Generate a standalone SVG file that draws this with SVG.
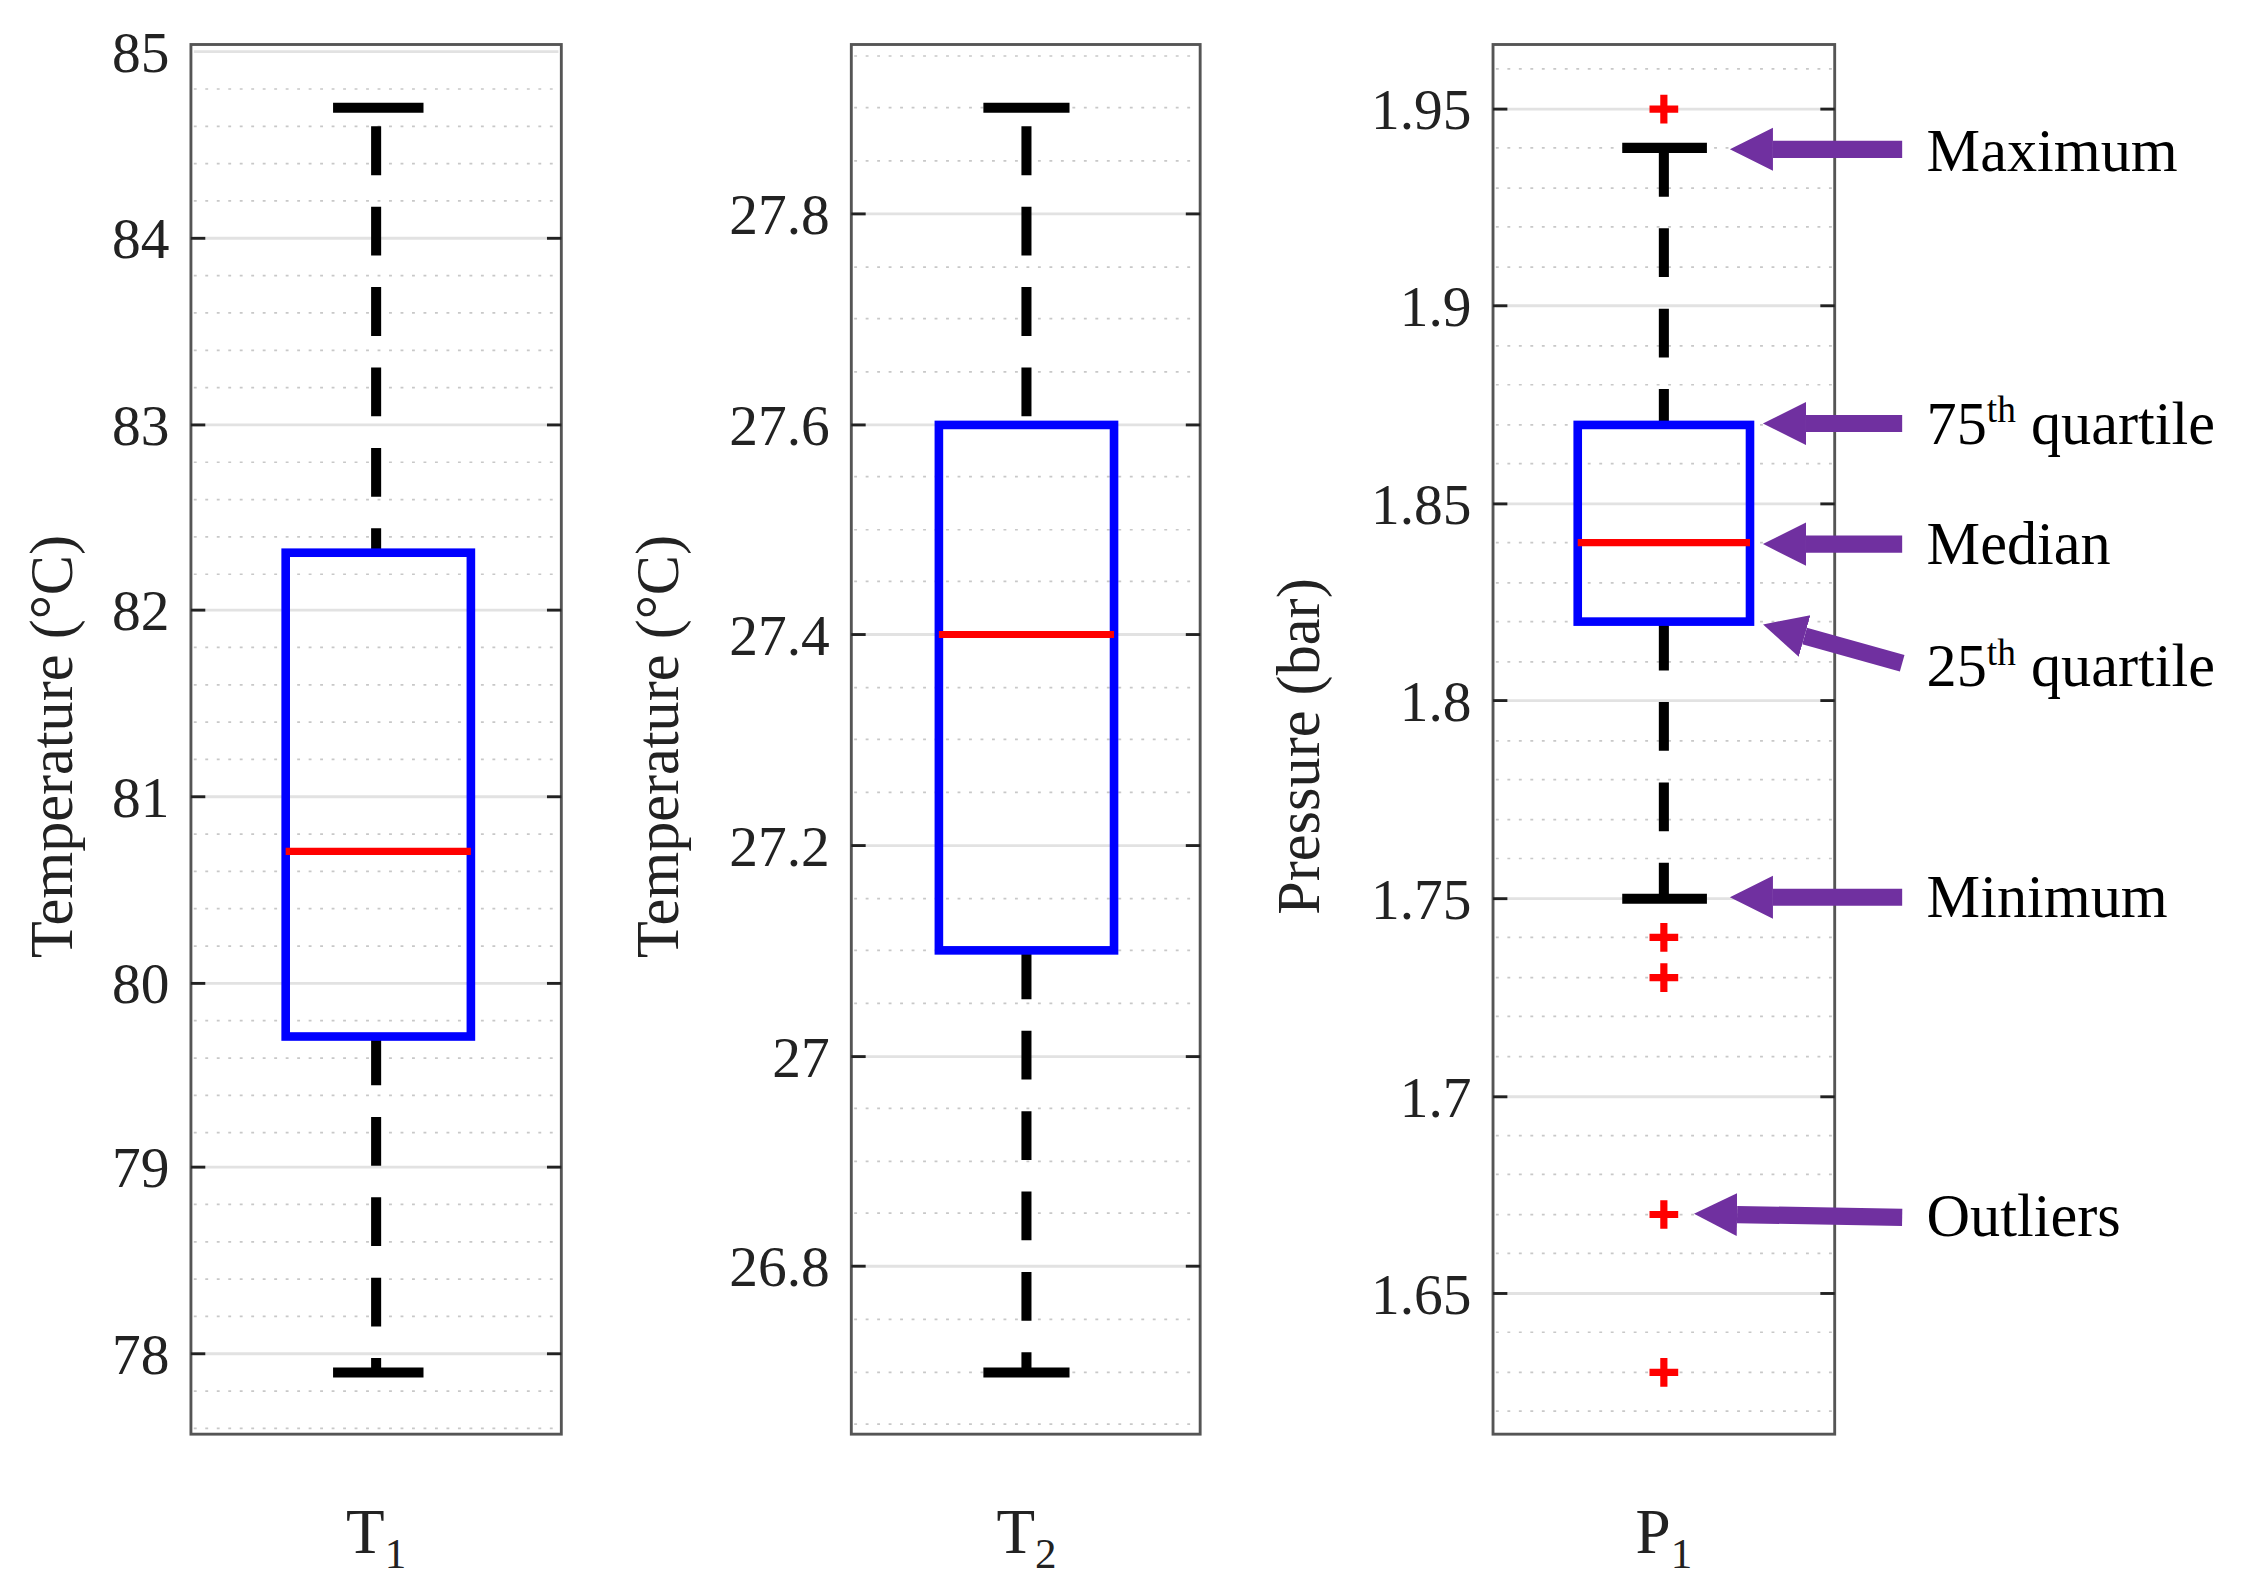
<svg xmlns="http://www.w3.org/2000/svg" width="2251" height="1575" viewBox="0 0 2251 1575">
<defs>
<style>
.frame{fill:#fff;stroke:#555;stroke-width:2}
.maj{stroke:#e2e2e2;stroke-width:2}
.min{stroke:#c8c8c8;stroke-width:1.2;stroke-dasharray:2 6}
.tick{stroke:#222;stroke-width:2}
.tl{font-family:"Liberation Serif",serif;font-size:40px;fill:#222;text-anchor:end}
.al{font-family:"Liberation Serif",serif;font-size:42px;fill:#222;text-anchor:middle}
.xl{font-family:"Liberation Serif",serif;font-size:44px;fill:#222;text-anchor:middle}
.an{font-family:"Liberation Serif",serif;font-size:42px;fill:#000}
.wh{stroke:#000;stroke-width:7;stroke-dasharray:34 22}
.cap{stroke:#000;stroke-width:7}
.box{fill:none;stroke:#0000ff;stroke-width:6}
.med{stroke:#ff0000;stroke-width:5}
.out{stroke:#ff0000;stroke-width:5}
.arr{stroke:#7030a0;stroke-width:12;marker-end:url(#ah)}
</style>
<marker id="ah" markerWidth="2.6" markerHeight="2.6" refX="0" refY="1.25" orient="auto" markerUnits="strokeWidth"><polygon points="0,0 2.5,1.25 0,2.5" fill="#7030a0"/></marker>
</defs>
<rect width="2251" height="1575" fill="#fff"/>
<g transform="scale(1.4356)">
<g id="panel-T1">
<rect class="frame" x="133" y="31" width="258" height="968"/>
<g class="min">
<line x1="135" x2="389" y1="62" y2="62"/><line x1="135" x2="389" y1="88" y2="88"/><line x1="135" x2="389" y1="114" y2="114"/><line x1="135" x2="389" y1="140" y2="140"/>
<line x1="135" x2="389" y1="192" y2="192"/><line x1="135" x2="389" y1="218" y2="218"/><line x1="135" x2="389" y1="244" y2="244"/><line x1="135" x2="389" y1="270" y2="270"/>
<line x1="135" x2="389" y1="322" y2="322"/><line x1="135" x2="389" y1="348" y2="348"/><line x1="135" x2="389" y1="374" y2="374"/><line x1="135" x2="389" y1="400" y2="400"/>
<line x1="135" x2="389" y1="451" y2="451"/><line x1="135" x2="389" y1="477" y2="477"/><line x1="135" x2="389" y1="503" y2="503"/><line x1="135" x2="389" y1="529" y2="529"/>
<line x1="135" x2="389" y1="581" y2="581"/><line x1="135" x2="389" y1="607" y2="607"/><line x1="135" x2="389" y1="633" y2="633"/><line x1="135" x2="389" y1="659" y2="659"/>
<line x1="135" x2="389" y1="711" y2="711"/><line x1="135" x2="389" y1="737" y2="737"/><line x1="135" x2="389" y1="763" y2="763"/><line x1="135" x2="389" y1="789" y2="789"/>
<line x1="135" x2="389" y1="839" y2="839"/><line x1="135" x2="389" y1="865" y2="865"/><line x1="135" x2="389" y1="891" y2="891"/><line x1="135" x2="389" y1="917" y2="917"/>
<line x1="135" x2="389" y1="969" y2="969"/><line x1="135" x2="389" y1="995" y2="995"/>
</g>
<g class="maj">
<line x1="135" x2="389" y1="36" y2="36"/><line x1="135" x2="389" y1="166" y2="166"/><line x1="135" x2="389" y1="296" y2="296"/><line x1="135" x2="389" y1="425" y2="425"/><line x1="135" x2="389" y1="555" y2="555"/><line x1="135" x2="389" y1="685" y2="685"/><line x1="135" x2="389" y1="813" y2="813"/><line x1="135" x2="389" y1="943" y2="943"/>
</g>
<g class="tick">
<line x1="133" x2="143" y1="166" y2="166"/><line x1="381" x2="391" y1="166" y2="166"/><line x1="133" x2="143" y1="296" y2="296"/><line x1="381" x2="391" y1="296" y2="296"/><line x1="133" x2="143" y1="425" y2="425"/><line x1="381" x2="391" y1="425" y2="425"/><line x1="133" x2="143" y1="555" y2="555"/><line x1="381" x2="391" y1="555" y2="555"/><line x1="133" x2="143" y1="685" y2="685"/><line x1="381" x2="391" y1="685" y2="685"/><line x1="133" x2="143" y1="813" y2="813"/><line x1="381" x2="391" y1="813" y2="813"/><line x1="133" x2="143" y1="943" y2="943"/><line x1="381" x2="391" y1="943" y2="943"/>
</g>
<text class="tl" x="118" y="50">85</text><text class="tl" x="118" y="180">84</text><text class="tl" x="118" y="310">83</text><text class="tl" x="118" y="439">82</text><text class="tl" x="118" y="569">81</text><text class="tl" x="118" y="699">80</text><text class="tl" x="118" y="827">79</text><text class="tl" x="118" y="957">78</text>
<text class="al" transform="translate(50,520) rotate(-90)">Temperature (°C)</text>
<line class="wh" x1="262" x2="262" y1="88" y2="385"/><line class="wh" x1="262" x2="262" y1="722" y2="956"/>
<line class="cap" x1="232" x2="295" y1="75" y2="75"/><line class="cap" x1="232" x2="295" y1="956" y2="956"/>
<rect class="box" x="199" y="385" width="129" height="337"/>
<line class="med" x1="199" x2="328" y1="593" y2="593"/>
<text class="xl" x="262" y="1082">T<tspan font-size="30" dy="10">1</tspan></text>
</g>
<g id="panel-T2">
<rect class="frame" x="593" y="31" width="243" height="968"/>
<g class="min">
<line x1="595" x2="834" y1="39" y2="39"/><line x1="595" x2="834" y1="75" y2="75"/><line x1="595" x2="834" y1="112" y2="112"/>
<line x1="595" x2="834" y1="186" y2="186"/><line x1="595" x2="834" y1="222" y2="222"/><line x1="595" x2="834" y1="259" y2="259"/>
<line x1="595" x2="834" y1="332" y2="332"/><line x1="595" x2="834" y1="369" y2="369"/><line x1="595" x2="834" y1="405" y2="405"/>
<line x1="595" x2="834" y1="479" y2="479"/><line x1="595" x2="834" y1="515" y2="515"/><line x1="595" x2="834" y1="552" y2="552"/>
<line x1="595" x2="834" y1="626" y2="626"/><line x1="595" x2="834" y1="662" y2="662"/><line x1="595" x2="834" y1="699" y2="699"/>
<line x1="595" x2="834" y1="772" y2="772"/><line x1="595" x2="834" y1="809" y2="809"/><line x1="595" x2="834" y1="845" y2="845"/>
<line x1="595" x2="834" y1="919" y2="919"/><line x1="595" x2="834" y1="956" y2="956"/><line x1="595" x2="834" y1="992" y2="992"/>
</g>
<g class="maj">
<line x1="595" x2="834" y1="149" y2="149"/><line x1="595" x2="834" y1="296" y2="296"/><line x1="595" x2="834" y1="442" y2="442"/><line x1="595" x2="834" y1="589" y2="589"/><line x1="595" x2="834" y1="736" y2="736"/><line x1="595" x2="834" y1="882" y2="882"/>
</g>
<g class="tick">
<line x1="593" x2="603" y1="149" y2="149"/><line x1="826" x2="836" y1="149" y2="149"/><line x1="593" x2="603" y1="296" y2="296"/><line x1="826" x2="836" y1="296" y2="296"/><line x1="593" x2="603" y1="442" y2="442"/><line x1="826" x2="836" y1="442" y2="442"/><line x1="593" x2="603" y1="589" y2="589"/><line x1="826" x2="836" y1="589" y2="589"/><line x1="593" x2="603" y1="736" y2="736"/><line x1="826" x2="836" y1="736" y2="736"/><line x1="593" x2="603" y1="882" y2="882"/><line x1="826" x2="836" y1="882" y2="882"/>
</g>
<text class="tl" x="578" y="163">27.8</text><text class="tl" x="578" y="310">27.6</text><text class="tl" x="578" y="456">27.4</text><text class="tl" x="578" y="603">27.2</text><text class="tl" x="578" y="750">27</text><text class="tl" x="578" y="896">26.8</text>
<text class="al" transform="translate(472,520) rotate(-90)">Temperature (°C)</text>
<line class="wh" x1="715" x2="715" y1="88" y2="296"/><line class="wh" x1="715" x2="715" y1="662" y2="956"/>
<line class="cap" x1="685" x2="745" y1="75" y2="75"/><line class="cap" x1="685" x2="745" y1="956" y2="956"/>
<rect class="box" x="654" y="296" width="122" height="366"/>
<line class="med" x1="654" x2="776" y1="442" y2="442"/>
<text class="xl" x="715" y="1082">T<tspan font-size="30" dy="10">2</tspan></text>
</g>
<g id="panel-P1">
<rect class="frame" x="1040" y="31" width="238" height="968"/>
<g class="min">
<line x1="1042" x2="1276" y1="48" y2="48"/><line x1="1042" x2="1276" y1="103" y2="103"/><line x1="1042" x2="1276" y1="131" y2="131"/><line x1="1042" x2="1276" y1="158" y2="158"/><line x1="1042" x2="1276" y1="186" y2="186"/>
<line x1="1042" x2="1276" y1="241" y2="241"/><line x1="1042" x2="1276" y1="268" y2="268"/><line x1="1042" x2="1276" y1="296" y2="296"/><line x1="1042" x2="1276" y1="323" y2="323"/>
<line x1="1042" x2="1276" y1="378" y2="378"/><line x1="1042" x2="1276" y1="406" y2="406"/><line x1="1042" x2="1276" y1="433" y2="433"/><line x1="1042" x2="1276" y1="461" y2="461"/>
<line x1="1042" x2="1276" y1="516" y2="516"/><line x1="1042" x2="1276" y1="543" y2="543"/><line x1="1042" x2="1276" y1="571" y2="571"/><line x1="1042" x2="1276" y1="598" y2="598"/>
<line x1="1042" x2="1276" y1="653" y2="653"/><line x1="1042" x2="1276" y1="681" y2="681"/><line x1="1042" x2="1276" y1="708" y2="708"/><line x1="1042" x2="1276" y1="736" y2="736"/>
<line x1="1042" x2="1276" y1="791" y2="791"/><line x1="1042" x2="1276" y1="818" y2="818"/><line x1="1042" x2="1276" y1="846" y2="846"/><line x1="1042" x2="1276" y1="873" y2="873"/>
<line x1="1042" x2="1276" y1="928" y2="928"/><line x1="1042" x2="1276" y1="956" y2="956"/><line x1="1042" x2="1276" y1="983" y2="983"/>
</g>
<g class="maj">
<line x1="1042" x2="1276" y1="76" y2="76"/><line x1="1042" x2="1276" y1="213" y2="213"/><line x1="1042" x2="1276" y1="351" y2="351"/><line x1="1042" x2="1276" y1="488" y2="488"/><line x1="1042" x2="1276" y1="626" y2="626"/><line x1="1042" x2="1276" y1="764" y2="764"/><line x1="1042" x2="1276" y1="901" y2="901"/>
</g>
<g class="tick">
<line x1="1040" x2="1050" y1="76" y2="76"/><line x1="1268" x2="1278" y1="76" y2="76"/><line x1="1040" x2="1050" y1="213" y2="213"/><line x1="1268" x2="1278" y1="213" y2="213"/><line x1="1040" x2="1050" y1="351" y2="351"/><line x1="1268" x2="1278" y1="351" y2="351"/><line x1="1040" x2="1050" y1="488" y2="488"/><line x1="1268" x2="1278" y1="488" y2="488"/><line x1="1040" x2="1050" y1="626" y2="626"/><line x1="1268" x2="1278" y1="626" y2="626"/><line x1="1040" x2="1050" y1="764" y2="764"/><line x1="1268" x2="1278" y1="764" y2="764"/><line x1="1040" x2="1050" y1="901" y2="901"/><line x1="1268" x2="1278" y1="901" y2="901"/>
</g>
<text class="tl" x="1025" y="90">1.95</text><text class="tl" x="1025" y="227">1.9</text><text class="tl" x="1025" y="365">1.85</text><text class="tl" x="1025" y="502">1.8</text><text class="tl" x="1025" y="640">1.75</text><text class="tl" x="1025" y="778">1.7</text><text class="tl" x="1025" y="915">1.65</text>
<text class="al" transform="translate(919,520) rotate(-90)">Pressure (bar)</text>
<line class="wh" x1="1159" x2="1159" y1="103" y2="296"/><line class="wh" x1="1159" x2="1159" y1="433" y2="626"/>
<line class="cap" x1="1130" x2="1189" y1="103" y2="103"/><line class="cap" x1="1130" x2="1189" y1="626" y2="626"/>
<rect class="box" x="1099" y="296" width="120" height="137"/>
<line class="med" x1="1099" x2="1219" y1="378" y2="378"/>
<g class="out">
<path d="M1149 76h20M1159 66v20"/><path d="M1149 653h20M1159 643v20"/><path d="M1149 681h20M1159 671v20"/><path d="M1149 846h20M1159 836v20"/><path d="M1149 956h20M1159 946v20"/>
</g>
<text class="xl" x="1159" y="1082">P<tspan font-size="30" dy="10">1</tspan></text>
</g>
<g id="connectors">
<line class="arr" x1="1325" y1="104" x2="1235" y2="104"/>
<line class="arr" x1="1325" y1="295" x2="1258" y2="295"/>
<line class="arr" x1="1325" y1="379" x2="1258" y2="379"/>
<line class="arr" x1="1325" y1="462" x2="1257" y2="443"/>
<line class="arr" x1="1325" y1="625" x2="1235" y2="625"/>
<line class="arr" x1="1325" y1="848" x2="1210" y2="846"/>
</g>
<g id="labels">
<text class="an" x="1342" y="119">Maximum</text>
<text class="an" x="1342" y="309">75<tspan font-size="26" dy="-15">th</tspan><tspan dy="15"> quartile</tspan></text>
<text class="an" x="1342" y="393">Median</text>
<text class="an" x="1342" y="478">25<tspan font-size="26" dy="-15">th</tspan><tspan dy="15"> quartile</tspan></text>
<text class="an" x="1342" y="639">Minimum</text>
<text class="an" x="1342" y="861">Outliers</text>
</g>
</g>
</svg>
